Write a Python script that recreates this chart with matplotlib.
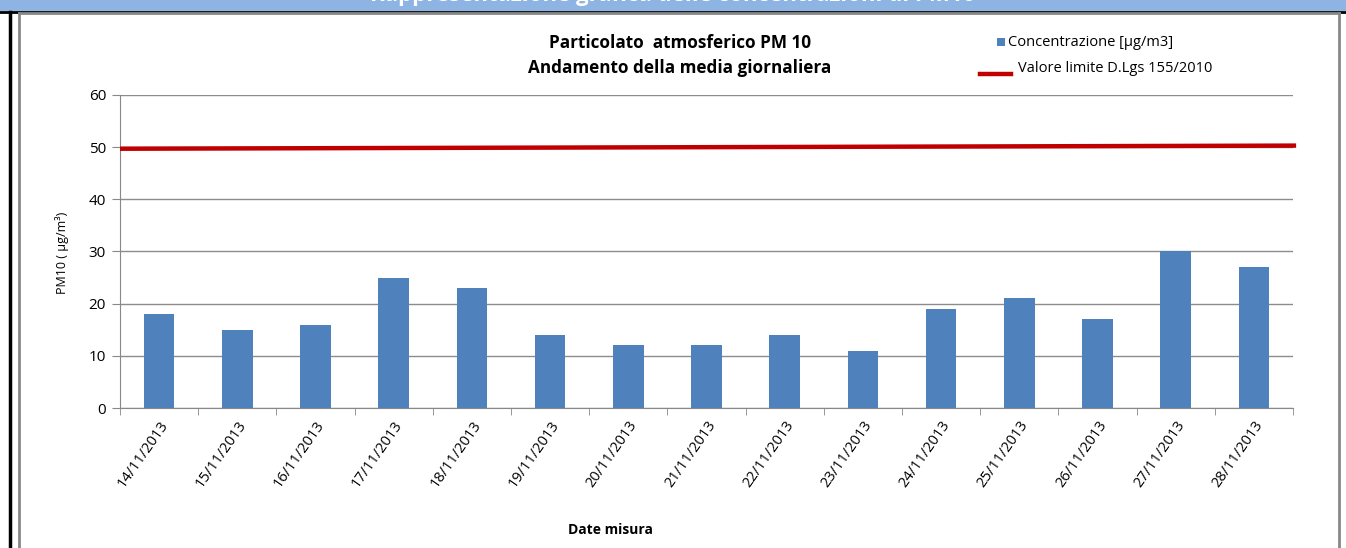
import numpy as np
import matplotlib
matplotlib.use("Agg")
import matplotlib.pyplot as plt
from matplotlib.lines import Line2D
from matplotlib.patches import Rectangle

plt.rcParams['font.family'] = ['Open Sans', 'DejaVu Sans']

dates = ["14/11/2013", "15/11/2013", "16/11/2013", "17/11/2013", "18/11/2013",
         "19/11/2013", "20/11/2013", "21/11/2013", "22/11/2013", "23/11/2013",
         "24/11/2013", "25/11/2013", "26/11/2013", "27/11/2013", "28/11/2013"]
concentrazione = [18, 15, 16, 25, 23, 14, 12, 12, 14, 11, 19, 21, 17, 30, 27]
limite = [49.7, 50.3]  # limit line as drawn, start and end
yticks = [0, 10, 20, 30, 40, 50, 60]

W, H = 1346, 548
fig = plt.figure(figsize=(W / 100, H / 100), dpi=100)

# header band and frame
fig.patches.append(Rectangle((0, 1 - 11 / H), 1, 11 / H, transform=fig.transFigure,
                             facecolor="#8DB4E2", edgecolor="none", zorder=0))
fig.text(0.5, 1 + 5 / H, "Rappresentazione grafica delle concentrazioni di PM10",
         color="white", weight="bold", fontsize=16, ha="center", va="center")
fig.lines.append(Line2D([0, 1], [1 - 12 / H] * 2, transform=fig.transFigure, color="black", lw=2))
fig.lines.append(Line2D([10 / W] * 2, [0, 1 - 12 / H], transform=fig.transFigure, color="black", lw=2.5))
fig.lines.append(Line2D([19 / W, 1339 / W], [1 - 13 / H] * 2, transform=fig.transFigure, color="#888888", lw=2))
fig.lines.append(Line2D([19 / W] * 2, [0, 1 - 13 / H], transform=fig.transFigure, color="#888888", lw=2))
fig.lines.append(Line2D([1339 / W] * 2, [0, 1 - 13 / H], transform=fig.transFigure, color="#888888", lw=2))

ax = fig.add_axes([120 / W, 1 - 408 / H, (1293 - 120) / W, (408 - 95) / H])
x = np.arange(len(dates))
bars = ax.bar(x, concentrazione, width=0.39, color="#4F81BD", zorder=3,
              label="Concentrazione [µg/m3]")
ax.plot([-0.5, len(dates) - 0.5 + 0.04], limite, color="#C00000", lw=3.2,
        solid_capstyle="butt", zorder=4, clip_on=False)

ax.set_xlim(-0.5, len(dates) - 0.5)
ax.set_ylim(0, 60)
ax.set_yticks(yticks)
ax.grid(axis="y", color="#8C8C8C", lw=1, zorder=0)
ax.set_xticks(x)
ax.set_xticklabels(dates, rotation=55, ha="right", rotation_mode="anchor", fontsize=10.5)
ax.tick_params(axis="x", length=0, pad=7)
ax.set_xticks(np.arange(-0.5, len(dates)), minor=True)
ax.tick_params(axis="x", which="minor", length=5, color="#888888")
ax.tick_params(axis="y", length=6, color="#888888", labelsize=11, pad=4)
for s in ["top", "right"]:
    ax.spines[s].set_visible(False)
for s in ["left", "bottom"]:
    ax.spines[s].set_color("#888888")

fig.text(62 / W, 1 - 253 / H, "PM10 ( µg/m³)", rotation=90, fontsize=9,
         ha="center", va="center")
fig.text(680 / W, 1 - 43 / H, "Particolato  atmosferico PM 10", weight="bold",
         fontsize=12.3, ha="center", va="center")
fig.text(680 / W, 1 - 68 / H, "Andamento della media giornaliera", weight="bold",
         fontsize=12.3, ha="center", va="center")
fig.text(610 / W, 1 - 530 / H, "Date misura", weight="bold", fontsize=10,
         ha="center", va="center")

# legend
fig.patches.append(Rectangle((997 / W, 1 - 46 / H), 8 / W, 8 / H, transform=fig.transFigure,
                             facecolor="#4F81BD", edgecolor="none"))
fig.text(1008 / W, 1 - 42 / H, "Concentrazione [µg/m3]", fontsize=10.5, ha="left", va="center")
fig.lines.append(Line2D([980 / W, 1011 / W], [1 - 74 / H] * 2, transform=fig.transFigure,
                        color="#C00000", lw=3.2))
fig.text(1018 / W, 1 - 69 / H, "Valore limite D.Lgs 155/2010", fontsize=10.5, ha="left", va="center")

fig.savefig("out.png", dpi=100)
